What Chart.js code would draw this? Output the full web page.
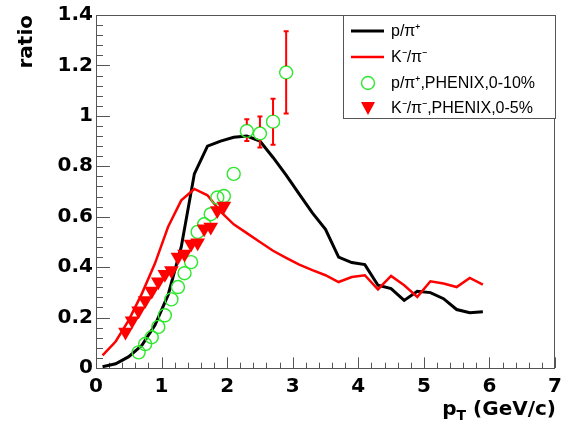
<!DOCTYPE html>
<html>
<head>
<meta charset="utf-8">
<script src="https://cdn.jsdelivr.net/npm/chart.js@4.4.0/dist/chart.umd.min.js"></script>
<style>
  body { margin: 0; background: #fff; }
  #wrap { width: 574px; height: 430px; }
</style>
</head>
<body>
<div id="wrap"><canvas id="ratioChart"></canvas></div>
<script>
// model curves (same pT grid for both)
const modelPt = [0.1, 0.3, 0.5, 0.7, 0.9, 1.1, 1.3, 1.5, 1.7, 1.9, 2.1, 2.3, 2.5, 2.7, 2.9,
                 3.1, 3.3, 3.5, 3.7, 3.9, 4.1, 4.3, 4.5, 4.7, 4.9, 5.1, 5.3, 5.5, 5.7, 5.9];
const pPiModel = [0.005, 0.017, 0.045, 0.09, 0.17, 0.29, 0.48, 0.77, 0.88, 0.90, 0.915, 0.92, 0.90, 0.835, 0.765,
                  0.69, 0.615, 0.55, 0.44, 0.418, 0.41, 0.328, 0.315, 0.268, 0.304, 0.299, 0.275, 0.232, 0.219, 0.223];
const kPiModel = [0.05, 0.105, 0.19, 0.295, 0.415, 0.56, 0.665, 0.71, 0.685, 0.62, 0.57, 0.535, 0.50, 0.465, 0.437,
                  0.41, 0.388, 0.368, 0.341, 0.361, 0.368, 0.312, 0.365, 0.328, 0.282, 0.344, 0.335, 0.321, 0.357, 0.331];

// PHENIX p/pi+, 0-10%
const phenixPPt = [0.65, 0.75, 0.85, 0.95, 1.05, 1.15, 1.25, 1.35, 1.45, 1.55, 1.65, 1.75, 1.85, 1.95, 2.1, 2.3, 2.5, 2.7, 2.9];
const phenixPY  = [0.062, 0.095, 0.122, 0.163, 0.209, 0.272, 0.321, 0.376, 0.42, 0.54, 0.57, 0.61, 0.676, 0.682, 0.77, 0.94, 0.93, 0.977, 1.172];
const phenixPLo = [null, null, null, null, null, null, null, null, null, null, null, null, null, null, null, 0.90, 0.875, 0.885, 1.009];
const phenixPHi = [null, null, null, null, null, null, null, null, null, null, null, null, null, null, null, 0.987, 0.997, 1.068, 1.336];

// PHENIX K-/pi-, 0-5%
const phenixKPt = [0.45, 0.55, 0.65, 0.75, 0.85, 0.95, 1.05, 1.15, 1.25, 1.35, 1.45, 1.55, 1.65, 1.75, 1.85, 1.95];
const phenixKY  = [0.143, 0.187, 0.227, 0.268, 0.305, 0.342, 0.372, 0.387, 0.44, 0.452, 0.492, 0.497, 0.552, 0.559, 0.625, 0.642];

const xTicks = [0, 1, 2, 3, 4, 5, 6, 7];
const yTicks = [0, 0.2, 0.4, 0.6, 0.8, 1, 1.2, 1.4];

const toXY = (xs, ys) => xs.map((x, i) => ({x: x, y: ys[i]}));

const AXIS_FONT = 'bold 20px "DejaVu Sans", sans-serif';
const FRAME = '#555';

// ROOT-like frame with inward ticks
const framePlugin = {
    id: 'frame',
    beforeDatasetsDraw(chart) {
        const {ctx, chartArea: a, scales: {x, y}} = chart;
        ctx.save();
        ctx.strokeStyle = FRAME;
        ctx.lineWidth = 1;
        ctx.strokeRect(a.left + 0.5, a.top + 0.5, a.right - a.left - 1, a.bottom - a.top);
        ctx.beginPath();
        for (let i = 0; i <= 35; i++) {
            const v = i * 0.2;
            const px = Math.round(x.getPixelForValue(v)) + 0.5;
            const len = (i % 5 === 0) ? 10.6 : 5.3;
            ctx.moveTo(px, a.bottom);
            ctx.lineTo(px, a.bottom - len);
        }
        for (let i = 0; i <= 35; i++) {
            const v = i * 0.04;
            const py = Math.round(y.getPixelForValue(v)) + 0.5;
            const len = (i % 5 === 0) ? 14 : 7;
            ctx.moveTo(a.left, py);
            ctx.lineTo(a.left + len, py);
        }
        ctx.stroke();
        ctx.restore();
    },
    afterDatasetsDraw(chart) {
        const {ctx, scales: {x, y}} = chart;
        // error bars on the PHENIX p/pi points
        ctx.save();
        ctx.strokeStyle = '#ff0000';
        ctx.lineWidth = 2;
        const r = 6.5;
        phenixPPt.forEach((pt, i) => {
            if (phenixPLo[i] == null) return;
            const px = x.getPixelForValue(pt);
            const pc = y.getPixelForValue(phenixPY[i]);
            const pl = y.getPixelForValue(phenixPLo[i]);
            const ph = y.getPixelForValue(phenixPHi[i]);
            ctx.beginPath();
            if (ph < pc - r) { ctx.moveTo(px, ph); ctx.lineTo(px, pc - r); }
            if (pl > pc + r) { ctx.moveTo(px, pc + r); ctx.lineTo(px, pl); }
            ctx.moveTo(px - 2.5, ph); ctx.lineTo(px + 2.5, ph);
            ctx.moveTo(px - 2.5, pl); ctx.lineTo(px + 2.5, pl);
            ctx.stroke();
        });
        ctx.restore();
    },
    afterDraw(chart) {
        const {ctx, chartArea: a} = chart;
        ctx.save();
        // x axis title with subscript
        ctx.fillStyle = '#000';
        ctx.textBaseline = 'alphabetic';
        const right = a.right + 1;
        const base = 415;
        ctx.font = AXIS_FONT;
        const rest = ' (GeV/c)';
        const wRest = ctx.measureText(rest).width;
        ctx.font = 'bold 14px "DejaVu Sans", sans-serif';
        const wT = ctx.measureText('T').width;
        ctx.font = AXIS_FONT;
        const wP = ctx.measureText('p').width;
        let xpos = right - wRest - wT - wP;
        ctx.fillText('p', xpos, base);
        xpos += wP;
        ctx.font = 'bold 14px "DejaVu Sans", sans-serif';
        ctx.fillText('T', xpos, base + 5);
        xpos += wT;
        ctx.font = AXIS_FONT;
        ctx.fillText(rest, xpos, base);

        // legend box
        const lx = 343, ly = 15, lw = 212, lh = 103;
        ctx.fillStyle = '#fff';
        ctx.fillRect(lx, ly, lw, lh);
        ctx.strokeStyle = FRAME;
        ctx.lineWidth = 1;
        ctx.strokeRect(lx + 0.5, ly + 0.5, lw, lh);
        const rows = [31, 57, 83, 108];
        const labels = ['p/\u03c0\u207a', 'K\u207b/\u03c0\u207b', 'p/\u03c0\u207a,PHENIX,0-10%', 'K\u207b/\u03c0\u207b,PHENIX,0-5%'];
        ctx.lineWidth = 3;
        ctx.strokeStyle = '#000';
        ctx.beginPath(); ctx.moveTo(351, rows[0]); ctx.lineTo(384, rows[0]); ctx.stroke();
        ctx.lineWidth = 2.5;
        ctx.strokeStyle = '#ff0000';
        ctx.beginPath(); ctx.moveTo(351, rows[1]); ctx.lineTo(384, rows[1]); ctx.stroke();
        ctx.lineWidth = 1.4;
        ctx.strokeStyle = '#2ee82e';
        ctx.beginPath(); ctx.arc(368, rows[2], 6.5, 0, Math.PI * 2); ctx.stroke();
        ctx.fillStyle = '#ff0000';
        ctx.beginPath();
        ctx.moveTo(361, rows[3] - 6); ctx.lineTo(375, rows[3] - 6); ctx.lineTo(368, rows[3] + 7);
        ctx.closePath(); ctx.fill();
        ctx.fillStyle = '#000';
        ctx.font = '16px "Liberation Sans", Arial, sans-serif';
        ctx.textBaseline = 'middle';
        labels.forEach((t, i) => ctx.fillText(t, 391, rows[i] + 1));
        ctx.restore();
    }
};

const ctxEl = document.getElementById('ratioChart');

new Chart(ctxEl, {
    type: 'scatter',
    data: {
        datasets: [
            {
                label: 'K-/pi-, PHENIX, 0-5%',
                data: toXY(phenixKPt, phenixKY),
                pointStyle: 'triangle',
                rotation: 180,
                radius: 8.5,
                backgroundColor: '#ff0000',
                borderColor: '#ff0000',
                borderWidth: 0,
                order: 1
            },
            {
                label: 'p/pi+, PHENIX, 0-10%',
                data: toXY(phenixPPt, phenixPY),
                pointStyle: 'circle',
                radius: 6.5,
                backgroundColor: 'rgba(0,0,0,0)',
                borderColor: '#2ee82e',
                borderWidth: 1.4,
                order: 2
            },
            {
                label: 'K-/pi-',
                data: toXY(modelPt, kPiModel),
                showLine: true,
                pointRadius: 0,
                borderColor: '#ff0000',
                borderWidth: 2.5,
                tension: 0,
                order: 3
            },
            {
                label: 'p/pi+',
                data: toXY(modelPt, pPiModel),
                showLine: true,
                pointRadius: 0,
                borderColor: '#000000',
                borderWidth: 3,
                tension: 0,
                order: 4
            }
        ]
    },
    options: {
        animation: false,
        responsive: true,
        maintainAspectRatio: false,
        layout: { padding: { left: 0, right: 19, top: 14, bottom: 0 } },
        plugins: {
            legend: { display: false },
            tooltip: { enabled: false }
        },
        scales: {
            x: {
                type: 'linear',
                min: 0,
                max: 7,
                border: { display: false },
                grid: { display: false, drawTicks: false },
                afterBuildTicks: (s) => { s.ticks = xTicks.map(v => ({value: v})); },
                afterFit: (s) => { s.height = 62; },
                ticks: {
                    padding: 7,
                    color: '#000',
                    maxRotation: 0,
                    font: { family: '"DejaVu Sans", sans-serif', size: 20, weight: 'bold' },
                    callback: (v) => String(v)
                }
            },
            y: {
                min: 0,
                max: 1.4,
                border: { display: false },
                grid: { display: false, drawTicks: false },
                afterBuildTicks: (s) => { s.ticks = yTicks.map(v => ({value: v})); },
                afterFit: (s) => { s.width = 96; },
                ticks: {
                    padding: 3,
                    color: '#000',
                    font: { family: '"DejaVu Sans", sans-serif', size: 20, weight: 'bold' },
                    callback: (v) => String(Math.round(v * 10) / 10)
                },
                title: {
                    display: true,
                    text: 'ratio',
                    align: 'end',
                    color: '#000',
                    padding: { top: 15, bottom: 0 },
                    font: { family: '"DejaVu Sans", sans-serif', size: 20, weight: 'bold' }
                }
            }
        }
    },
    plugins: [framePlugin]
});
</script>
</body>
</html>
